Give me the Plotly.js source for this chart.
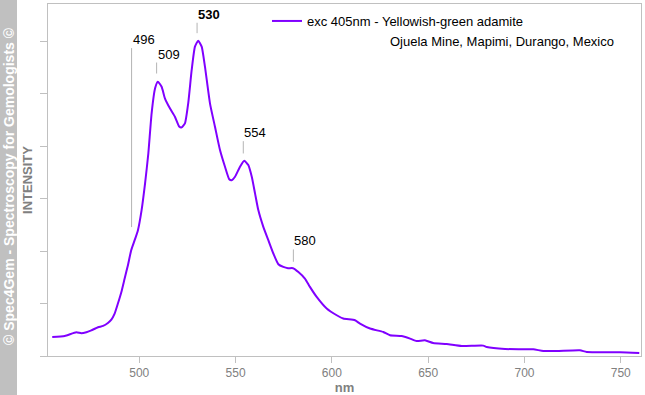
<!DOCTYPE html>
<html>
<head>
<meta charset="utf-8">
<script src="https://cdn.plot.ly/plotly-3.0.1.min.js"></script>
<style>
  html, body { margin: 0; padding: 0; background: #ffffff; }
  #chart { width: 645px; height: 395px; }
</style>
</head>
<body>
<div id="chart"></div>
<script>
// ---- data ----
const wavelength = [454.8, 461.3, 467.3, 469.9, 472.5, 475.1, 478.6, 481.2, 483.7, 485.5,
  487.2, 488.9, 490.7, 492.4, 494.1, 495.8, 497.6, 499.3, 501.2, 503.0,
  504.7, 506.4, 508.2, 509.6, 511.6, 513.3, 515.9, 518.5, 520.8, 522.0,
  523.7, 525.4, 527.2, 528.9, 530.6, 532.4, 534.1, 536.7, 539.3, 541.9,
  544.5, 546.7, 548.0, 549.7, 552.3, 554.5, 556.6, 558.4, 560.1, 561.8,
  564.4, 567.0, 569.6, 572.2, 574.8, 577.2, 579.8, 582.6, 586.0, 588.6,
  592.1, 597.3, 602.5, 605.9, 612.0, 614.6, 619.8, 626.7, 630.2, 636.2,
  640.6, 644.0, 648.3, 652.6, 659.6, 667.4, 678.6, 680.4, 689.9, 699.4,
  704.6, 709.8, 716.7, 728.8, 732.3, 749.6, 759.6];
const intensity = [0.363, 0.382, 0.452, 0.433, 0.452, 0.490, 0.548, 0.573, 0.630, 0.695,
  0.809, 1.000, 1.221, 1.477, 1.731, 2.017, 2.208, 2.399, 2.781, 3.290,
  3.863, 4.626, 5.103, 5.229, 5.134, 4.912, 4.721, 4.561, 4.370, 4.359,
  4.435, 4.817, 5.452, 5.897, 6.011, 5.897, 5.515, 4.817, 4.370, 3.926,
  3.607, 3.370, 3.350, 3.416, 3.607, 3.721, 3.639, 3.416, 3.099, 2.781,
  2.462, 2.208, 1.954, 1.750, 1.698, 1.674, 1.674, 1.603, 1.477, 1.317,
  1.126, 0.905, 0.777, 0.714, 0.681, 0.618, 0.523, 0.458, 0.395, 0.382,
  0.332, 0.286, 0.300, 0.248, 0.229, 0.191, 0.198, 0.172, 0.134, 0.128,
  0.128, 0.095, 0.095, 0.109, 0.076, 0.071, 0.057];
const peakNm = [496, 509, 530, 554, 580];
const peakLabels = ['496', '509', '530', '554', '580'];
const xTickVals = [500, 550, 600, 650, 700, 750];
const xTickText = ['500', '550', '600', '650', '700', '750'];
const seriesName = 'exc 405nm - Yellowish-green adamite';
const subtitle = 'Ojuela Mine, Mapimi, Durango, Mexico';
const watermark = '\u00A9 Spec4Gem - Spectroscopy for Gemologists \u00A9';

// ---- label styling (offsets in px) ----
const labelLift = [-201, -22, -20, -21, -19];
const labelGap = [22, 11, 9.6, 8.7, 6.7];
const labelBold = [false, false, true, false, false];

function interp(x) {
  for (let i = 0; i < wavelength.length - 1; i++) {
    if (x >= wavelength[i] && x <= wavelength[i + 1]) {
      const t = (x - wavelength[i]) / (wavelength[i + 1] - wavelength[i]);
      return intensity[i] + t * (intensity[i + 1] - intensity[i]);
    }
  }
  return 0;
}

const FONT = 'Arial, "Liberation Sans", sans-serif';
const AXIS_GRAY = '#c0c0c0';
const TEXT_GRAY = '#808080';

const annotations = peakNm.map((p, i) => ({
  x: p, y: interp(p), xref: 'x', yref: 'y',
  text: labelBold[i] ? '<b>' + peakLabels[i] + '</b>' : peakLabels[i],
  showarrow: true, arrowhead: 0, arrowwidth: 1, arrowcolor: '#b4b4b4',
  ax: 0, ay: labelLift[i], standoff: labelGap[i],
  xanchor: 'left', yanchor: 'bottom', borderpad: 0,
  font: { family: FONT, size: 13, color: '#000000' }
}));

annotations.push({
  xref: 'paper', yref: 'paper', x: (388 - 48) / 593, y: 1 - (41 - 4) / 352,
  xanchor: 'left', yanchor: 'middle', showarrow: false,
  text: subtitle, font: { family: FONT, size: 13, color: '#000000' }
});

annotations.push({
  xref: 'paper', yref: 'paper', x: (8.5 - 48) / 593, y: (356 - 186.5) / 352,
  xanchor: 'center', yanchor: 'middle', showarrow: false, textangle: -90,
  text: '<b>' + watermark + '</b>', font: { family: FONT, size: 14, color: '#ffffff' }
});

const trace = {
  x: wavelength, y: intensity, type: 'scatter', mode: 'lines',
  name: seriesName,
  line: { color: '#8000ff', width: 2, shape: 'spline', smoothing: 0.5 }
};

const layout = {
  width: 645, height: 395,
  margin: { l: 48, r: 4, t: 4, b: 39, pad: 0 },
  paper_bgcolor: '#ffffff', plot_bgcolor: '#ffffff',
  showlegend: true,
  legend: {
    x: (267 - 48) / 593, y: 1 - 2 / 352, xanchor: 'left', yanchor: 'top',
    bgcolor: 'rgba(0,0,0,0)', borderwidth: 0,
    font: { family: FONT, size: 13, color: '#000000' }
  },
  xaxis: {
    range: [452.6, 760.5], showgrid: false, zeroline: false,
    showline: true, linecolor: AXIS_GRAY, linewidth: 1, mirror: true,
    ticks: 'outside', ticklen: 6, tickcolor: AXIS_GRAY, tickwidth: 1,
    tickmode: 'array', tickvals: xTickVals, ticktext: xTickText,
    tickfont: { family: FONT, size: 12, color: TEXT_GRAY },
    title: { text: '<b>nm</b>', font: { family: FONT, size: 13, color: TEXT_GRAY }, standoff: 4 }
  },
  yaxis: {
    range: [0, 6.71], showgrid: false, zeroline: false,
    showline: true, linecolor: AXIS_GRAY, linewidth: 1, mirror: true,
    ticks: 'outside', ticklen: 7, tickcolor: AXIS_GRAY, tickwidth: 1,
    dtick: 1, tick0: 0, showticklabels: false,
    title: { text: '<b>INTENSITY</b>', font: { family: FONT, size: 13, color: TEXT_GRAY }, standoff: 4 }
  },
  shapes: [{
    type: 'rect', xref: 'paper', yref: 'paper',
    x0: (0 - 48) / 593, x1: (17 - 48) / 593, y0: -0.2, y1: 1.2,
    fillcolor: '#c0c0c0', line: { width: 0 }, layer: 'below'
  }],
  annotations: annotations
};

Plotly.newPlot('chart', [trace], layout, { displayModeBar: false, staticPlot: true });
</script>
</body>
</html>
